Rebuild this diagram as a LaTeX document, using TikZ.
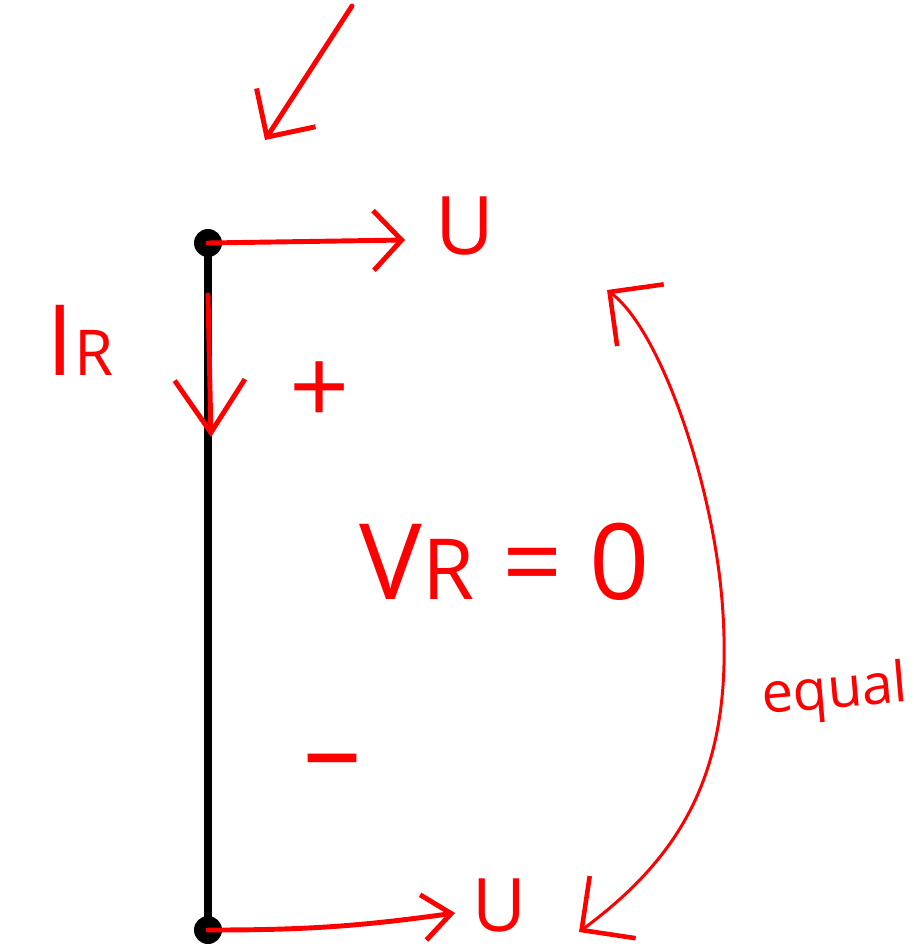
\documentclass[tikz,border=0pt]{standalone}
\usepackage{fontspec}
\setmainfont{Open Sans}
\usetikzlibrary{arrows.meta,positioning}
\definecolor{InkRed}{RGB}{255, 0, 0}

\begin{document}
\begin{tikzpicture}[
    x=0.02cm, y=-0.02cm,
    wire/.style={line width=4.2pt, black},
    dot/.style={circle, fill=black, inner sep=0pt, minimum size=0.56cm},
    ink/.style={InkRed, line width=2.8pt, line cap=round, line join=round},
    thinink/.style={InkRed, line width=1.7pt, line cap=round, line join=round},
    word/.style={InkRed, inner sep=0pt, font=\fontsize{46}{50}\selectfont}
]
\useasboundingbox (0,0) rectangle (913,952);

% === WIRE ===
\node[dot] (top) at (208,243) {};
\node[dot] (bot) at (208,930) {};
\draw[wire] (top.center) -- (bot.center);

% === U ARROWS ===
\node[word] (uTop) at (465,226) {U};
\node[word, font=\fontsize{42}{46}\selectfont] (uBot) at (499,906) {U};
\coordinate (tipTop) at (405,240);
\coordinate (tipBot) at (455,913);
\draw[ink, -{Straight Barb[length=16pt,width=34pt]}] (top.center) -- (tipTop);
\draw[ink, -{Straight Barb[length=16pt,width=26pt]}] (bot.center) to[bend right=4] (tipBot);

% === CURRENT ===
\coordinate (iStart) at (208,295);
\coordinate (iEnd) at (211,437);
\draw[ink, -{Straight Barb[length=30pt,width=40pt]}] (iStart) -- (iEnd);
\node[word, font=\fontsize{56}{60}\selectfont] (iR) at (80,340) {I{\fontsize{36}{40}\selectfont R}};

% === VOLTAGE ===
\node[word, font=\fontsize{60}{64}\selectfont] (plus) at (320,393) {+};
\node[word, font=\fontsize{66}{70}\selectfont] (minus) at (332,772) {–};
\node[word, font=\fontsize{60}{64}\selectfont] (vR) at (505,562) {V{\fontsize{48}{52}\selectfont R} = 0};

% === EQUAL ===
\coordinate (eqBot) at (579,932);
\coordinate (eqTop) at (607,290);
\draw[thinink, {Straight Barb[length=22pt,width=44pt,line width=2.6pt]}-{Straight Barb[length=22pt,width=44pt,line width=2.6pt]}]
    (eqBot) .. controls (690,850) and (735,760) .. (722,600)
    .. controls (712,480) and (660,330) .. (eqTop);
\node[word, font=\fontsize{32}{36}\selectfont, rotate=5] (equal) at (835,693) {equal};

% === STRAY ARROW ===
\coordinate (strayA) at (352,6);
\coordinate (strayB) at (265,140);
\draw[ink, -{Straight Barb[length=20pt,width=40pt]}] (strayA) -- (strayB);

\end{tikzpicture}
\end{document}
